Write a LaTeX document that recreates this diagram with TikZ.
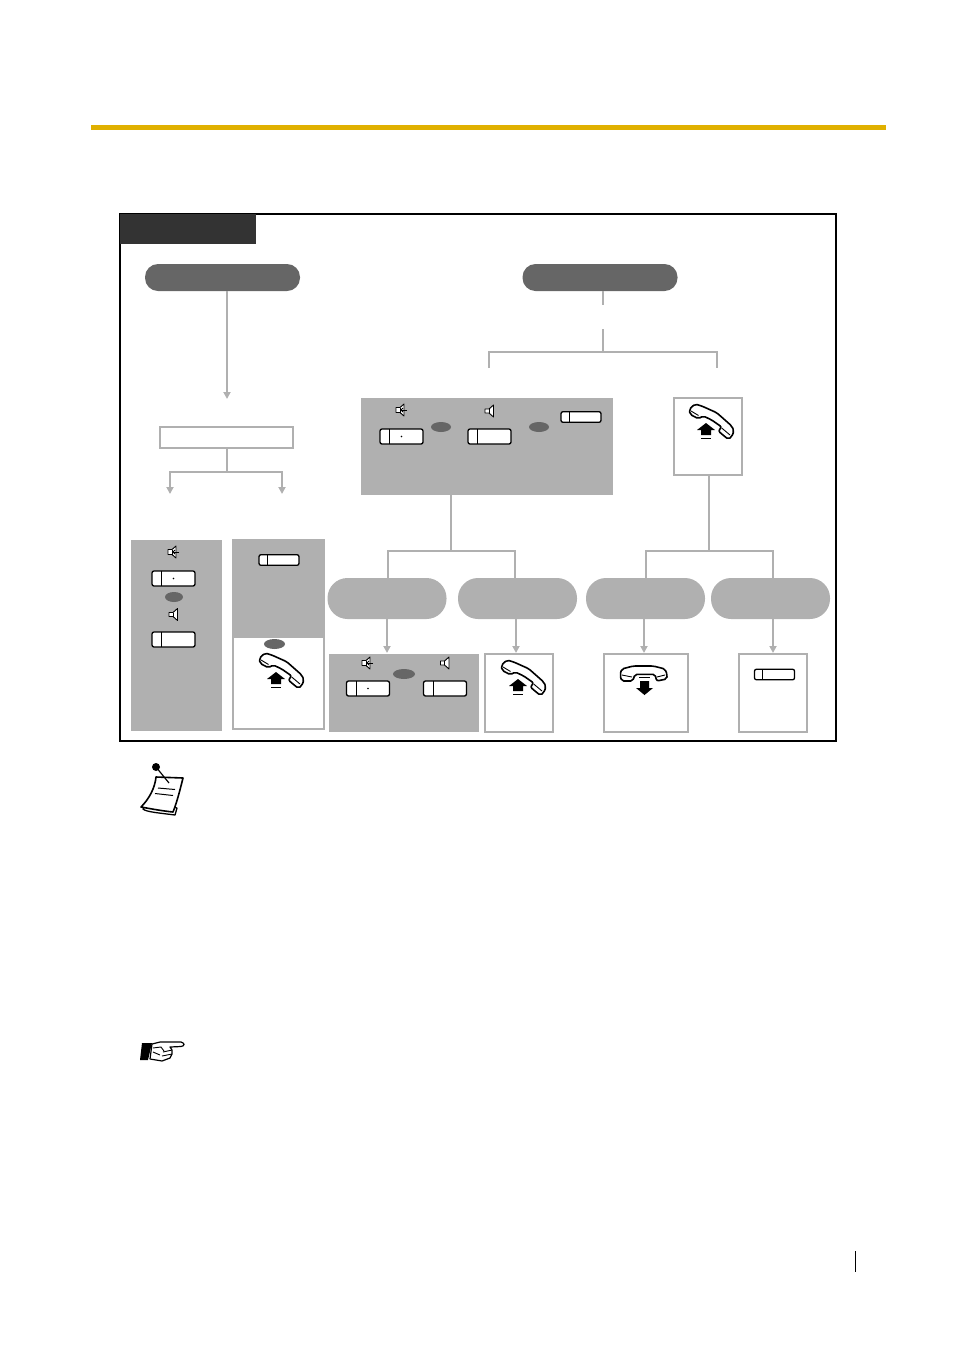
\documentclass[tikz,border=0pt]{standalone}
\usetikzlibrary{arrows.meta,shapes.geometric}
\definecolor{rulegold}{HTML}{E0B000}
\definecolor{boxgray}{HTML}{B0B0B0}
\definecolor{pillgray}{HTML}{666666}
\definecolor{tabgray}{HTML}{333333}
\tikzset{
  shaded/.style={fill=boxgray, inner sep=0pt, outer sep=0pt},
  framed/.style={draw=boxgray, line width=2pt, fill=white, inner sep=0pt, outer sep=0pt},
  darkpill/.style={fill=pillgray, rounded corners=13pt, minimum width=155pt, minimum height=27pt, inner sep=0pt, outer sep=0pt},
  lightpill/.style={fill=boxgray, rounded corners=20pt, minimum width=119pt, minimum height=41pt, inner sep=0pt, outer sep=0pt},
  oval/.style={ellipse, fill=pillgray, minimum width=20pt, minimum height=10pt, inner sep=0pt},
  conn/.style={draw=boxgray, line width=2pt},
  connarrow/.style={conn, -{Triangle[width=7pt,length=7pt]}},
  btnbig/.pic={
    \draw[fill=white, line width=1.3pt, rounded corners=2pt] (-21.5,-7.5) rectangle (21.5,7.5);
    \draw[line width=1pt] (-12,-7.5) -- (-12,7.5);
  },
  btnbigdot/.pic={
    \draw[fill=white, line width=1.3pt, rounded corners=2pt] (-21.5,-7.5) rectangle (21.5,7.5);
    \draw[line width=1pt] (-12,-7.5) -- (-12,7.5);
    \fill (0,0) circle (0.8);
  },
  btnsmall/.pic={
    \draw[fill=white, line width=1.3pt, rounded corners=2pt] (-20,-5.3) rectangle (20,5.3);
    \draw[line width=1pt] (-12,-5.3) -- (-12,5.3);
  },
  speaker/.pic={
    \draw[line width=0.9pt, fill=white, line join=round] (-4.5,-2) -- (-0.5,-2) -- (4,-6) -- (4,6) -- (-0.5,2) -- (-4.5,2) -- cycle;
    \draw[line width=0.9pt] (-0.5,-2) -- (-0.5,2);
  },
  speakerarrow/.pic={
    \draw[line width=0.9pt, fill=white, line join=round] (-5,-2.5) -- (-1,-2.5) -- (3,-6) -- (3,6) -- (-1,2.5) -- (-5,2.5) -- cycle;
    \draw[line width=0.9pt] (-1,-2.5) -- (-1,2.5);
    \draw[line width=0.9pt] (6,0) -- (0,0);
    \draw[line width=0.9pt] (2,-2) -- (0,0) -- (2,2);
  },
  handup/.pic={
    \draw[fill=white, line width=1.6pt, rounded corners=2pt] (1.3,5.3) -- (7,0) -- (13.7,2) -- (28.7,8.7) -- (43.7,22) -- (46,27) -- (43.7,32.7) -- (40.3,35.3) -- (35.3,31.3) -- (30.3,27) -- (33.7,23) -- (23.7,16) -- (15.3,12) -- (10.3,14.7) -- (2,10.3) -- cycle;
    \draw[line width=0.9pt] (3,7) -- (10.5,11.5);
    \draw[line width=0.9pt] (33.7,24) -- (42,31);
    \fill (18,19) -- (27,26) -- (23,26) -- (23,31) -- (13,31) -- (13,26) -- (9,26) -- cycle;
    \draw[line width=1pt] (13,34.5) -- (23,34.5);
  },
  handdown/.pic={
    \draw[fill=white, line width=1.6pt, rounded corners=2pt] (1,11) -- (2.7,5) -- (14.3,2) -- (34.3,2) -- (46,5) -- (48.3,11) -- (47.7,15) -- (37.7,17) -- (36,10.3) -- (16,10.3) -- (13.7,17) -- (2.7,17) -- cycle;
    \draw[line width=0.9pt] (3,11) -- (13,13);
    \draw[line width=0.9pt] (38,13) -- (46,11);
    \fill (25.5,31) -- (34,24) -- (30,24) -- (30,17) -- (21,17) -- (21,24) -- (17,24) -- cycle;
    \draw[line width=1pt] (20,13.5) -- (31,13.5);
  },
}
\begin{document}
\begin{tikzpicture}[x=1pt,y=-1pt]
	\useasboundingbox (0,0) rectangle (954,1350);
	\fill[rulegold] (91,125) rectangle (886,130);
	\draw[line width=1.6pt] (120,214) rectangle (836,741);
	\node[fill=tabgray, minimum width=136pt, minimum height=30pt, inner sep=0pt, outer sep=0pt] (tab) at (188,229) {};

	% top pills
	\node[darkpill] (pillleft) at (222.5,277.5) {};
	\node[darkpill] (pillright) at (600,277.5) {};

	% left branch
	\node[framed, minimum width=133pt, minimum height=21pt] (choice) at (226.5,437.5) {};
	\coordinate (choicetop) at (227,399);
	\coordinate (forkleft) at (170,494);
	\coordinate (forkright) at (282,494);
	\coordinate (forkmid) at (227,471.5);
	\draw[connarrow] (pillleft.south -| choicetop) to (choicetop);
	\draw[conn] (choice.south -| forkmid) to (forkmid);
	\draw[connarrow] (forkmid) -| (forkleft);
	\draw[connarrow] (forkmid) -| (forkright);

	% right branch
	\coordinate (stubtop) at (603,305);
	\coordinate (stubbot) at (603,329);
	\coordinate (rightmid) at (603,352);
	\coordinate (dropleft) at (489,368);
	\coordinate (dropright) at (717,368);
	\draw[conn] (pillright.south -| stubtop) to (stubtop);
	\draw[conn] (stubbot) to (rightmid);
	\draw[conn] (dropleft) |- (rightmid) -| (dropright);

	% boxes
	\node[shaded, minimum width=252pt, minimum height=97pt] (dialbox) at (487,446.5) {};
	\node[framed, minimum width=68pt, minimum height=77pt] (liftbox) at (708,436.5) {};
	\node[shaded, minimum width=91pt, minimum height=191pt] (dialleft) at (176.5,635.5) {};
	\node[shaded, minimum width=93pt, minimum height=97pt] (keyleft) at (278.5,587.5) {};
	\node[framed, minimum width=91pt, minimum height=92pt] (liftleft) at (278.5,683) {};

	% middle pills
	\node[lightpill] (pilla) at (387,598.5) {};
	\node[lightpill] (pillb) at (517.5,598.5) {};
	\node[lightpill] (pillc) at (645.5,598.5) {};
	\node[lightpill] (pilld) at (770.5,598.5) {};
	\coordinate (dialmid) at (451,550.5);
	\coordinate (liftmid) at (709,550.5);
	\coordinate (dropa) at (388,578);
	\coordinate (dropb) at (515,578);
	\coordinate (dropc) at (646,578);
	\coordinate (dropd) at (773,578);
	\draw[conn] (dialbox.south -| dialmid) to (dialmid);
	\draw[conn] (dialmid) -| (dropa);
	\draw[conn] (dialmid) -| (dropb);
	\draw[conn] (liftbox.south -| liftmid) to (liftmid);
	\draw[conn] (liftmid) -| (dropc);
	\draw[conn] (liftmid) -| (dropd);

	% bottom boxes
	\node[shaded, minimum width=150pt, minimum height=78pt] (dialbot) at (404,693) {};
	\node[framed, minimum width=68pt, minimum height=78pt] (liftbot) at (519,693) {};
	\node[framed, minimum width=84pt, minimum height=78pt] (hangbot) at (646,693) {};
	\node[framed, minimum width=68pt, minimum height=78pt] (keybot) at (773,693) {};
	\coordinate (arrowa) at (387,653);
	\coordinate (arrowb) at (516,653);
	\coordinate (arrowc) at (644,653);
	\coordinate (arrowd) at (773,653);
	\draw[connarrow] (pilla.south -| arrowa) to (arrowa);
	\draw[connarrow] (pillb.south -| arrowb) to (arrowb);
	\draw[connarrow] (pillc.south -| arrowc) to (arrowc);
	\draw[connarrow] (pilld.south -| arrowd) to (arrowd);

	% ovals
	\node[oval] (ovala) at (441,427) {};
	\node[oval] (ovalb) at (539,427) {};
	\node[oval, minimum width=18pt] (ovalc) at (174,597) {};
	\node[oval, minimum width=21pt] (ovald) at (274.5,644) {};
	\node[oval, minimum width=22pt] (ovale) at (404,674) {};

	% icons
	\pic at (401,410) {speakerarrow};
	\pic at (489.5,411) {speaker};
	\pic at (401.5,436.5) {btnbigdot};
	\pic at (489.5,436.5) {btnbig};
	\pic at (581,417) {btnsmall};
	\pic at (688,404) {handup};
	\pic at (173,552) {speakerarrow};
	\pic at (173.5,614.5) {speaker};
	\pic at (173.5,578.5) {btnbigdot};
	\pic at (173.5,639.5) {btnbig};
	\pic at (279,560) {btnsmall};
	\pic at (258,653) {handup};
	\pic at (367,663) {speakerarrow};
	\pic at (445,663) {speaker};
	\pic at (368,688.5) {btnbigdot};
	\pic at (445,688.5) {btnbig};
	\pic at (500,660) {handup};
	\pic at (619,664) {handdown};
	\pic at (774.5,674.5) {btnsmall};

	% note
	\fill (156,767) circle (4);
	\draw[line width=1.3pt, fill=white, line join=round] (143,809) .. controls (146,812) and (160,813) .. (175,815) -- (177,808) -- (150,800) -- cycle;
	\draw[line width=1.6pt, fill=white, line join=round] (156,777) -- (183,778) .. controls (180,790) and (177,802) .. (173,812) .. controls (163,811) and (152,809) .. (141,807) .. controls (149,799) and (155,788) .. (156,777) -- cycle;
	\draw[line width=1.2pt] (156,767) -- (169,783);
	\draw[line width=1pt] (158,788) -- (175,789.5);
	\draw[line width=1pt] (155,793.5) -- (173,795.5);

	% hand
	\fill (142,1043) -- (152,1043) -- (148,1060) -- (140,1060) -- cycle;
	\draw[line width=1.2pt, fill=white, line join=round] (152,1044) -- (160,1042) -- (181,1042) .. controls (185,1043) and (185,1046) .. (181,1046.5) -- (170,1047) -- (172,1050) -- (172,1054) -- (170,1058) -- (162,1061) -- (150,1059) -- cycle;
	\draw[line width=0.9pt] (153,1048) -- (161,1047) -- (164,1051);
	\draw[line width=0.9pt] (163,1052) -- (172,1050);
	\draw[line width=0.9pt] (162,1056) -- (172,1054);
	\draw[line width=0.9pt] (153,1052) -- (160,1055);

	% page number rule
	\draw[line width=0.8pt] (855,1251) -- (855,1272);
\end{tikzpicture}
\end{document}
